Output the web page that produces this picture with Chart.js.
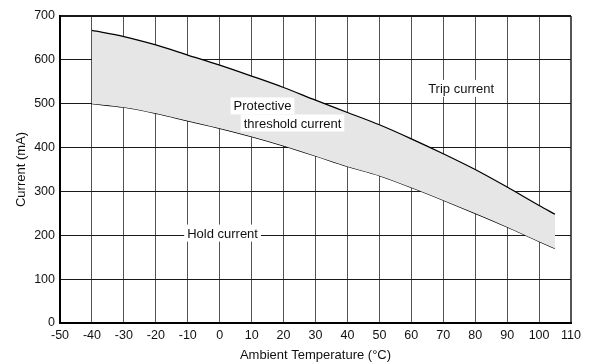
<!DOCTYPE html>
<html>
<head>
<meta charset="utf-8">
<script src="https://cdn.jsdelivr.net/npm/chart.js@4/dist/chart.umd.min.js"></script>
<style>
  html, body { margin: 0; padding: 0; background: #fff; }
  #wrap { width: 593px; height: 364px; }
</style>
</head>
<body>
<div id="wrap"><canvas id="chart"></canvas></div>
<script>
// values
const temps = [-40, -30, -20, -10, 0, 10, 20, 30, 40, 50, 60, 70, 80, 90, 100, 105];
const tripCurrent = [667, 653, 634, 611, 588, 563, 537, 508, 480, 452, 420, 386, 350, 310, 268, 248];
const holdCurrent = [500, 492, 478, 461, 444, 425, 404, 381, 357, 336, 309, 280, 250, 219, 186, 170];

const xTicks = [-50, -40, -30, -20, -10, 0, 10, 20, 30, 40, 50, 60, 70, 80, 90, 100, 110];
const yTicks = [0, 100, 200, 300, 400, 500, 600, 700];

// text labels inside the plot: [text, x, y] in data units
const notes = [
  ['Trip current', 75.6, 535],
  ['Protective', 13.4, 495],
  ['threshold current', 22.8, 456],
  ['Hold current', 0.9, 205]
];

const font = "'Liberation Sans', Arial, Helvetica, sans-serif";

function pts(ys) {
  return temps.map(function(t, i) { return { x: t, y: ys[i] }; });
}

// white-boxed labels drawn over the grid
const notePlugin = {
  id: 'notes',
  afterDatasetsDraw(chart) {
    const ctx = chart.ctx;
    const xs = chart.scales.x, ys = chart.scales.y;
    ctx.save();
    ctx.font = '13px ' + font;
    ctx.textAlign = 'center';
    ctx.textBaseline = 'middle';
    notes.forEach(function(n) {
      const px = xs.getPixelForValue(n[1]);
      const py = ys.getPixelForValue(n[2]);
      const w = ctx.measureText(n[0]).width + 6;
      ctx.fillStyle = '#fff';
      ctx.fillRect(px - w / 2, py - 8.5, w, 17);
      ctx.fillStyle = '#111';
      ctx.fillText(n[0], px, py + 1);
    });
    ctx.restore();
  }
};

new Chart(document.getElementById('chart'), {
  type: 'line',
  data: {
    datasets: [
      {
        label: 'Trip current',
        data: pts(tripCurrent),
        borderColor: '#000',
        borderWidth: 1.3,
        pointRadius: 0,
        cubicInterpolationMode: 'monotone',
        fill: '+1',
        backgroundColor: '#e6e6e6'
      },
      {
        label: 'Hold current',
        data: pts(holdCurrent),
        borderColor: '#000',
        borderWidth: 1.3,
        pointRadius: 0,
        cubicInterpolationMode: 'monotone',
        fill: false
      }
    ]
  },
  options: {
    responsive: true,
    maintainAspectRatio: false,
    animation: false,
    events: [],
    layout: { padding: { left: 0, right: 22, top: 16, bottom: 0 } },
    plugins: { legend: { display: false }, tooltip: { enabled: false } },
    scales: {
      x: {
        type: 'linear',
        min: -50,
        max: 110,
        afterBuildTicks: function(s) { s.ticks = xTicks.map(function(v) { return { value: v }; }); },
        afterFit: function(s) { s.height = 41; },
        grid: {
          drawTicks: false,
          color: '#555',
          lineWidth: function(c) { return c.tick && c.tick.value === 110 ? 2 : 1; }
        },
        border: { color: '#000', width: 2 },
        ticks: { color: '#111', padding: 5, maxRotation: 0, autoSkip: false, font: { family: font, size: 12.5 } },
        title: {
          display: true,
          text: 'Ambient Temperature (°C)',
          color: '#111',
          padding: { top: 0, bottom: 1 },
          font: { family: font, size: 13 }
        }
      },
      y: {
        min: 0,
        max: 700,
        afterBuildTicks: function(s) { s.ticks = yTicks.map(function(v) { return { value: v }; }); },
        afterFit: function(s) { s.width = 60; },
        grid: {
          drawTicks: false,
          color: '#1a1a1a',
          lineWidth: function(c) { return c.tick && c.tick.value === 700 ? 2 : 1; }
        },
        border: { color: '#000', width: 2 },
        ticks: { color: '#111', padding: 5, font: { family: font, size: 12.5 } },
        title: {
          display: true,
          text: 'Current (mA)',
          color: '#111',
          padding: { top: 14, bottom: 0 },
          font: { family: font, size: 13 }
        }
      }
    }
  },
  plugins: [notePlugin]
});
</script>
</body>
</html>
